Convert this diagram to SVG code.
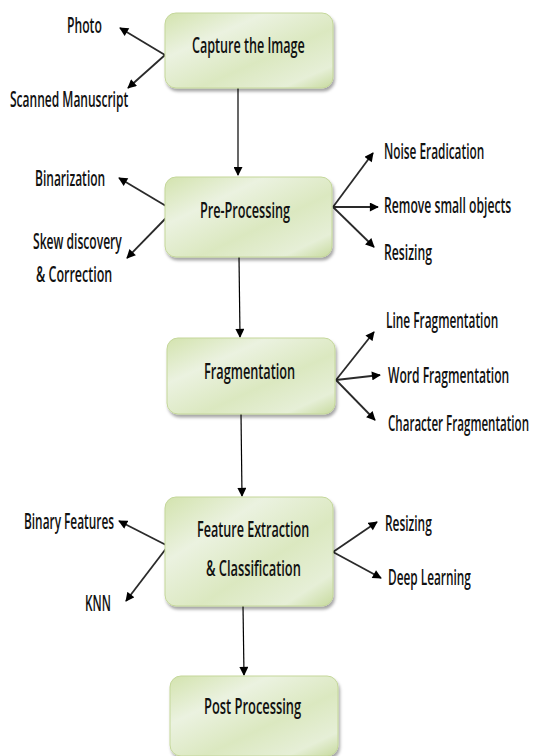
<svg xmlns="http://www.w3.org/2000/svg" width="533" height="756" viewBox="0 0 533 756">
<defs>
<linearGradient id="g" x1="0" y1="0" x2="1" y2="1">
<stop offset="0" stop-color="#d3e3ae"/>
<stop offset="0.3" stop-color="#ebf2e0"/>
<stop offset="0.6" stop-color="#dbe8c0"/>
<stop offset="0.85" stop-color="#e6efd7"/>
<stop offset="1" stop-color="#c7da9e"/>
</linearGradient>
<filter id="sh" x="-10%" y="-10%" width="125%" height="130%">
<feDropShadow dx="1.5" dy="3" stdDeviation="1.8" flood-color="#000" flood-opacity="0.35"/>
</filter>
<marker id="ah" viewBox="0 0 10 10" refX="9" refY="5" markerWidth="10" markerHeight="9" markerUnits="userSpaceOnUse" orient="auto">
<path d="M0,0 L10,5 L0,10 z" fill="#000"/>
</marker>
</defs>
<style>
.box{fill:url(#g);stroke:#c4d79a;stroke-width:1;filter:url(#sh)}
.t{font-family:"Open Sans","Liberation Sans",sans-serif;font-size:22px;font-weight:600;fill:#111}
.d{stroke:#2a2a2a;stroke-width:1.8;fill:none;marker-end:url(#ah)}
.v{stroke:#000;stroke-width:1.2;fill:none;marker-end:url(#ah)}
</style>
<rect width="533" height="756" fill="#fff"/>
<g id="connectors">
<line class="v" x1="238" y1="88" x2="238" y2="175"/>
<line class="v" x1="239" y1="257" x2="240" y2="337"/>
<line class="v" x1="241" y1="414" x2="242" y2="496"/>
<line class="v" x1="243" y1="606" x2="244" y2="675"/>
<line class="d" x1="165" y1="55" x2="120" y2="28"/>
<line class="d" x1="165" y1="55" x2="128" y2="88"/>
<line class="d" x1="166" y1="206" x2="119" y2="178"/>
<line class="d" x1="166" y1="218" x2="127" y2="258"/>
<line class="d" x1="333" y1="207" x2="373" y2="153"/>
<line class="d" x1="333" y1="207" x2="378" y2="207"/>
<line class="d" x1="333" y1="207" x2="374" y2="247"/>
<line class="d" x1="336" y1="380" x2="374" y2="332"/>
<line class="d" x1="336" y1="380" x2="380" y2="375"/>
<line class="d" x1="336" y1="380" x2="375" y2="420"/>
<line class="d" x1="168" y1="546" x2="119" y2="521"/>
<line class="d" x1="168" y1="546" x2="126" y2="601"/>
<line class="d" x1="333" y1="552" x2="377" y2="522"/>
<line class="d" x1="333" y1="552" x2="381" y2="578"/>
</g>
<g id="capture">
<rect class="box" x="165" y="13" width="168" height="75" rx="11"/>
<text class="t" transform="translate(192,53) scale(0.6,1)" textLength="188" lengthAdjust="spacingAndGlyphs">Capture the Image</text>
</g>
<g id="photo"><text class="t" transform="translate(67,33) scale(0.6,1)" textLength="58" lengthAdjust="spacingAndGlyphs">Photo</text></g>
<g id="scanned"><text class="t" transform="translate(10,107) scale(0.6,1)" textLength="197" lengthAdjust="spacingAndGlyphs">Scanned Manuscript</text></g>
<g id="preprocessing">
<rect class="box" x="165" y="177" width="167" height="80" rx="11"/>
<text class="t" transform="translate(200,218) scale(0.6,1)" textLength="150" lengthAdjust="spacingAndGlyphs">Pre-Processing</text>
</g>
<g id="binarization"><text class="t" transform="translate(35,186) scale(0.6,1)" textLength="117" lengthAdjust="spacingAndGlyphs">Binarization</text></g>
<g id="skew">
<text class="t" transform="translate(33,249) scale(0.6,1)" textLength="148" lengthAdjust="spacingAndGlyphs">Skew discovery</text>
<text class="t" transform="translate(36,282) scale(0.6,1)" textLength="127" lengthAdjust="spacingAndGlyphs">&amp;  Correction</text>
</g>
<g id="noise"><text class="t" transform="translate(384,159) scale(0.6,1)" textLength="167" lengthAdjust="spacingAndGlyphs">Noise Eradication</text></g>
<g id="remove"><text class="t" transform="translate(384,213) scale(0.6,1)" textLength="212" lengthAdjust="spacingAndGlyphs">Remove small objects</text></g>
<g id="resizing1"><text class="t" transform="translate(384,260) scale(0.6,1)" textLength="80" lengthAdjust="spacingAndGlyphs">Resizing</text></g>
<g id="fragmentation">
<rect class="box" x="167" y="338" width="168" height="76" rx="11"/>
<text class="t" transform="translate(204,379) scale(0.6,1)" textLength="152" lengthAdjust="spacingAndGlyphs">Fragmentation</text>
</g>
<g id="line"><text class="t" transform="translate(386,328) scale(0.6,1)" textLength="187" lengthAdjust="spacingAndGlyphs">Line Fragmentation</text></g>
<g id="word"><text class="t" transform="translate(388,383) scale(0.6,1)" textLength="202" lengthAdjust="spacingAndGlyphs">Word Fragmentation</text></g>
<g id="character"><text class="t" transform="translate(388,431) scale(0.5,1)" textLength="282" lengthAdjust="spacingAndGlyphs">Character Fragmentation</text></g>
<g id="feature">
<rect class="box" x="165" y="497" width="168" height="109" rx="11"/>
<text class="t" transform="translate(197,537) scale(0.6,1)" textLength="187" lengthAdjust="spacingAndGlyphs">Feature Extraction</text>
<text class="t" transform="translate(206,576) scale(0.6,1)" textLength="158" lengthAdjust="spacingAndGlyphs">&amp; Classification</text>
</g>
<g id="binaryfeatures"><text class="t" transform="translate(24,529) scale(0.6,1)" textLength="150" lengthAdjust="spacingAndGlyphs">Binary Features</text></g>
<g id="knn"><text class="t" transform="translate(85,611) scale(0.6,1)" textLength="43" lengthAdjust="spacingAndGlyphs">KNN</text></g>
<g id="resizing2"><text class="t" transform="translate(385,531) scale(0.6,1)" textLength="78" lengthAdjust="spacingAndGlyphs">Resizing</text></g>
<g id="deeplearning"><text class="t" transform="translate(388,585) scale(0.6,1)" textLength="138" lengthAdjust="spacingAndGlyphs">Deep Learning</text></g>
<g id="post">
<rect class="box" x="170" y="676" width="168" height="80" rx="11"/>
<text class="t" transform="translate(204,714) scale(0.6,1)" textLength="162" lengthAdjust="spacingAndGlyphs">Post Processing</text>
</g>
</svg>
